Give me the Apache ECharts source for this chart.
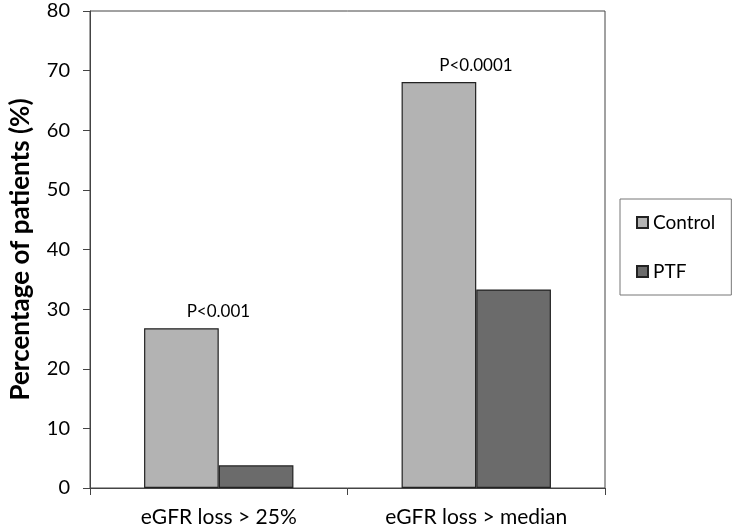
<!DOCTYPE html>
<html>
<head>
<meta charset="utf-8">
<script src="https://cdn.jsdelivr.net/npm/echarts@6/dist/echarts.min.js"></script>
<style>html,body{margin:0;padding:0;background:#fff}#c{width:736px;height:530px}</style>
</head>
<body>
<div id="c"></div>
<script>
var categories = ['eGFR loss > 25%', 'eGFR loss > median'];
var controlValues = [26.8, 68.1];
var ptfValues = [3.8, 33.3];
var pLabels = ['P<0.001', 'P<0.0001'];
var yTicks = { min: 0, max: 80, interval: 10 };

var font = 'Lato, "Noto Sans", sans-serif';
var chart = echarts.init(document.getElementById('c'));
chart.setOption({
  animation: false,
  textStyle: { fontFamily: font },
  grid: { left: 87, right: 131, top: 11, bottom: 42, show: true, borderColor: '#444', borderWidth: 1 },
  legend: {
    orient: 'vertical', left: 620, top: 199,
    padding: [14, 16, 14, 16], itemGap: 30,
    borderColor: '#777', borderWidth: 1,
    icon: 'rect', itemWidth: 11, itemHeight: 11,
    textStyle: { fontSize: 19, color: '#000', fontFamily: font },
    data: ['Control', 'PTF']
  },
  xAxis: {
    type: 'category', data: categories,
    axisLine: { lineStyle: { color: '#444', width: 1 } },
    axisTick: { show: true, length: 7, lineStyle: { color: '#444' } },
    axisLabel: { fontSize: 21, color: '#000', margin: 19, fontFamily: font }
  },
  yAxis: {
    type: 'value', min: yTicks.min, max: yTicks.max, interval: yTicks.interval,
    name: 'Percentage of patients (%)', nameLocation: 'middle', nameGap: 56,
    nameTextStyle: { fontSize: 26, fontWeight: 'bold', color: '#000', fontFamily: font },
    axisLine: { show: true, lineStyle: { color: '#444', width: 1 } },
    axisTick: { show: true, length: 7, lineStyle: { color: '#444' } },
    axisLabel: { fontSize: 20, color: '#000', margin: 20, fontFamily: font },
    splitLine: { show: false }
  },
  series: [
    {
      name: 'Control', type: 'bar', data: controlValues,
      barGap: '0%', barCategoryGap: '42%',
      itemStyle: { color: '#b3b3b3', borderColor: '#222', borderWidth: 1.2 },
      label: {
        show: true, position: 'top', distance: 8, offset: [37, 0],
        fontSize: 17, color: '#000', fontFamily: font,
        formatter: function (p) { return pLabels[p.dataIndex]; }
      }
    },
    {
      name: 'PTF', type: 'bar', data: ptfValues,
      itemStyle: { color: '#6b6b6b', borderColor: '#222', borderWidth: 1.2 }
    }
  ]
});
</script>
</body>
</html>
